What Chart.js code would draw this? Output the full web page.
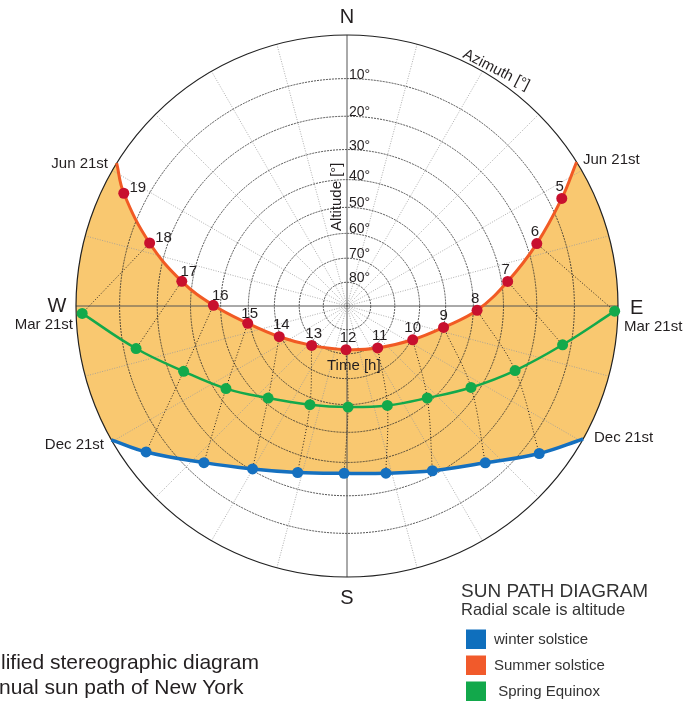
<!DOCTYPE html>
<html>
<head>
<meta charset="utf-8">
<script src="https://cdn.jsdelivr.net/npm/chart.js@4.4.0/dist/chart.umd.min.js"></script>
<style>
html, body { margin: 0; padding: 0; background: #fff; overflow: hidden; }
canvas { display: block; }
</style>
</head>
<body>
<canvas id="sunpath" width="691" height="701"></canvas>
<script>
// sun positions: azimuth [deg from N, clockwise], altitude [deg]
var summerHours = [5, 6, 7, 8, 9, 10, 11, 12, 13, 14, 15, 16, 17, 18, 19];
var summerAz = [63.4, 71.8, 81.3, 91.9, 102.5, 117.2, 143.8, 181.3, 221.9, 245.6, 260.1, 270.3, 278.5, 287.7, 296.8];
var summerAlt = [6.9, 17.2, 28.1, 38.7, 49.9, 59.5, 68.3, 71.7, 67.9, 59.3, 49.2, 37.5, 26.7, 15.2, 4.6];
var summerRiseSet = [57.9, 301.8];

var equinoxHours = [6, 7, 8, 9, 10, 11, 12, 13, 14, 15, 16, 17, 18];
var equinoxAz = [91.1, 100.2, 111.0, 123.3, 138.9, 157.9, 179.4, 200.6, 220.6, 235.7, 248.2, 258.6, 268.4];
var equinoxAlt = [0.7, 12.1, 22.8, 32.6, 41.5, 46.8, 49.1, 47.5, 41.8, 33.2, 24.0, 13.1, 1.3];

var winterHours = [8, 9, 10, 11, 12, 13, 14, 15, 16];
var winterAz = [127.5, 138.6, 152.6, 166.9, 181.0, 196.5, 210.1, 222.4, 234.0];
var winterAlt = [6.4, 14.7, 21.2, 25.3, 26.6, 24.7, 20.4, 13.9, 5.0];
var winterRiseSet = [119.4, 240.4];

var altitudeTicks = [10, 20, 30, 40, 50, 60, 70, 80];
var azimuthStep = 15;

var FONT = '"Liberation Sans", Arial, sans-serif';
var INK = '#231f20';

// stereographic projection, horizon = unit circle
function stereo(az, alt) {
    var r = Math.tan((90 - alt) / 2 * Math.PI / 180);
    var a = az * Math.PI / 180;
    return { x: r * Math.sin(a), y: r * Math.cos(a) };
}

function path(az, alt) {
    var out = [];
    for (var i = 0; i < az.length; i++) out.push(stereo(az[i], alt[i]));
    return out;
}

var summerPts = path(summerAz, summerAlt);
var equinoxPts = path(equinoxAz, equinoxAlt);
var winterPts = path(winterAz, winterAlt);

var summerLine = [stereo(summerRiseSet[0], 0)].concat(summerPts, [stereo(summerRiseSet[1], 0)]);
var winterLine = [stereo(winterRiseSet[0], 0)].concat(winterPts, [stereo(winterRiseSet[1], 0)]);

// daylight area: summer path, horizon, winter path back, horizon
var dayArea = summerLine.slice();
for (var a = summerRiseSet[1] - 2; a > winterRiseSet[1]; a -= 2) dayArea.push(stereo(a, 0));
dayArea = dayArea.concat(winterLine.slice().reverse());
for (var b = winterRiseSet[0] - 2; b > summerRiseSet[0]; b -= 2) dayArea.push(stereo(b, 0));

// hour lines joining the same hour on the three days
var hourLines = [];
summerHours.forEach(function (h, i) {
    var pts = [summerPts[i]];
    var e = equinoxHours.indexOf(h);
    if (e >= 0) pts.push(equinoxPts[e]);
    var w = winterHours.indexOf(h);
    if (w >= 0) pts.push(winterPts[w]);
    if (pts.length > 1) {
        hourLines.push({
            data: pts,
            showLine: true,
            borderColor: '#2a2420',
            borderWidth: 1,
            borderDash: [1, 2],
            pointRadius: 0,
            tension: 0.35,
            clip: false
        });
    }
});

function radius(v) {
    return function (ctx) { return ctx.dataIndex === 0 || ctx.dataIndex === ctx.dataset.data.length - 1 ? 0 : v; };
}

var datasets = [
    { label: 'summer', data: summerLine, showLine: true, borderColor: '#f15a24', borderWidth: 3, tension: 0.4,
      pointRadius: radius(5.5), pointBackgroundColor: '#c8102e', pointBorderWidth: 0, clip: false },
    { label: 'equinox', data: equinoxPts, showLine: true, borderColor: '#13a94b', borderWidth: 2.5, tension: 0.4,
      pointRadius: 5.5, pointBackgroundColor: '#13a94b', pointBorderWidth: 0, clip: false },
    { label: 'winter', data: winterLine, showLine: true, borderColor: '#1570bf', borderWidth: 3.5, tension: 0.4,
      pointRadius: radius(5.5), pointBackgroundColor: '#1570bf', pointBorderWidth: 0, clip: false }
].concat(hourLines, [
    { label: 'day', data: dayArea, showLine: true, borderWidth: 0, pointRadius: 0, tension: 0.4,
      fill: 'shape', backgroundColor: '#f9c870', clip: false }
]);

var gridPlugin = {
    id: 'sunGrid',
    beforeDatasetsDraw: function (chart) {
        var ctx = chart.ctx, xs = chart.scales.x, ys = chart.scales.y;
        var cx = xs.getPixelForValue(0), cy = ys.getPixelForValue(0);
        var R = xs.getPixelForValue(1) - cx;
        ctx.save();
        // azimuth lines
        ctx.strokeStyle = '#9a9a9a';
        ctx.lineWidth = 0.8;
        ctx.setLineDash([1, 1.5]);
        for (var az = azimuthStep; az < 360; az += azimuthStep) {
            if (az % 90 === 0) continue;
            var p = stereo(az, 0);
            ctx.beginPath();
            ctx.moveTo(cx, cy);
            ctx.lineTo(xs.getPixelForValue(p.x), ys.getPixelForValue(p.y));
            ctx.stroke();
        }
        // altitude rings
        ctx.strokeStyle = '#2a2a2a';
        ctx.lineWidth = 0.8;
        ctx.setLineDash([2, 1]);
        altitudeTicks.forEach(function (alt) {
            var r = cy - ys.getPixelForValue(stereo(0, alt).y);
            ctx.beginPath();
            ctx.arc(cx, cy, r, 0, Math.PI * 2);
            ctx.stroke();
        });
        // N-S and E-W lines
        ctx.setLineDash([]);
        ctx.strokeStyle = '#555';
        ctx.lineWidth = 1;
        ctx.beginPath();
        ctx.moveTo(cx, cy - R); ctx.lineTo(cx, cy + R);
        ctx.moveTo(cx - R, cy); ctx.lineTo(cx + R, cy);
        ctx.stroke();
        // horizon
        ctx.strokeStyle = '#222';
        ctx.lineWidth = 1.2;
        ctx.beginPath();
        ctx.arc(cx, cy, R, 0, Math.PI * 2);
        ctx.stroke();
        ctx.restore();
    },
    afterDatasetsDraw: function (chart) {
        var ctx = chart.ctx, xs = chart.scales.x, ys = chart.scales.y;
        var cx = xs.getPixelForValue(0), cy = ys.getPixelForValue(0);
        ctx.save();
        ctx.fillStyle = INK;
        // altitude labels
        ctx.font = '14px ' + FONT;
        ctx.textAlign = 'left';
        ctx.textBaseline = 'alphabetic';
        altitudeTicks.forEach(function (alt) {
            ctx.fillText(alt + '°', cx + 2, ys.getPixelForValue(stereo(0, alt).y));
        });
        // hour labels on the summer path
        var meta = chart.getDatasetMeta(0);
        ctx.font = '15px ' + FONT;
        ctx.textAlign = 'center';
        summerHours.forEach(function (h, i) {
            var el = meta.data[i + 1];
            var dx = h >= 18 ? 14 : h >= 16 ? 7 : h >= 11 ? 2 : h >= 9 ? 0 : -2;
            var dy = h >= 18 ? -1 : h >= 15 ? -5 : -7.5;
            ctx.fillText(String(h), el.x + dx, el.y + dy);
        });
        ctx.restore();
    },
    afterDraw: function (chart) {
        var ctx = chart.ctx;
        ctx.save();
        ctx.fillStyle = INK;
        ctx.textBaseline = 'alphabetic';
        // compass
        ctx.font = '20px ' + FONT;
        ctx.textAlign = 'center';
        ctx.fillText('N', 347, 23);
        ctx.fillText('S', 347, 604);
        ctx.fillText('W', 57, 312);
        ctx.textAlign = 'left';
        ctx.fillText('E', 630, 314);
        // dates
        ctx.font = '15px ' + FONT;
        ctx.textAlign = 'right';
        ctx.fillText('Jun 21st', 108, 168);
        ctx.fillText('Mar 21st', 73, 329);
        ctx.fillText('Dec 21st', 104, 449);
        ctx.textAlign = 'left';
        ctx.fillText('Jun 21st', 583, 164);
        ctx.fillText('Mar 21st', 624, 331);
        ctx.fillText('Dec 21st', 594, 442);
        // axis titles
        ctx.fillText('Time [h]', 327, 370);
        ctx.save();
        ctx.translate(341, 231);
        ctx.rotate(-Math.PI / 2);
        ctx.fillText('Altitude [°]', 0, 0);
        ctx.restore();
        ctx.save();
        ctx.translate(462, 57);
        ctx.rotate(27 * Math.PI / 180);
        ctx.fillText('Azimuth [°]', 0, 0);
        ctx.restore();
        // caption
        ctx.font = '21px ' + FONT;
        ctx.fillText('lified stereographic diagram', 1, 669);
        ctx.fillText('nual sun path of New York', -1, 694);
        // legend
        ctx.fillStyle = '#333';
        ctx.font = '19px ' + FONT;
        ctx.fillText('SUN PATH DIAGRAM', 461, 597);
        ctx.font = '16.5px ' + FONT;
        ctx.fillText('Radial scale is altitude', 461, 615);
        var items = [['winter solstice', '#0f6fbd'], ['Summer solstice', '#f15a2b'], [' Spring Equinox', '#12a84b']];
        ctx.font = '15px ' + FONT;
        items.forEach(function (it, i) {
            ctx.fillStyle = it[1];
            ctx.fillRect(466, 629.5 + i * 26, 20, 19.5);
            ctx.fillStyle = '#333';
            ctx.fillText(it[0], 494, 643.5 + i * 26.3);
        });
        ctx.restore();
    }
};

var chart = new Chart(document.getElementById('sunpath'), {
    type: 'scatter',
    data: { datasets: datasets },
    options: {
        responsive: false,
        animation: false,
        layout: { padding: { left: 76, right: 73, top: 35, bottom: 124 } },
        scales: {
            x: { type: 'linear', min: -1, max: 1, display: false },
            y: { type: 'linear', min: -1, max: 1, display: false }
        },
        plugins: {
            legend: { display: false },
            tooltip: { enabled: false },
            filler: { drawTime: 'beforeDatasetsDraw' }
        }
    },
    plugins: [gridPlugin]
});
</script>
</body>
</html>
